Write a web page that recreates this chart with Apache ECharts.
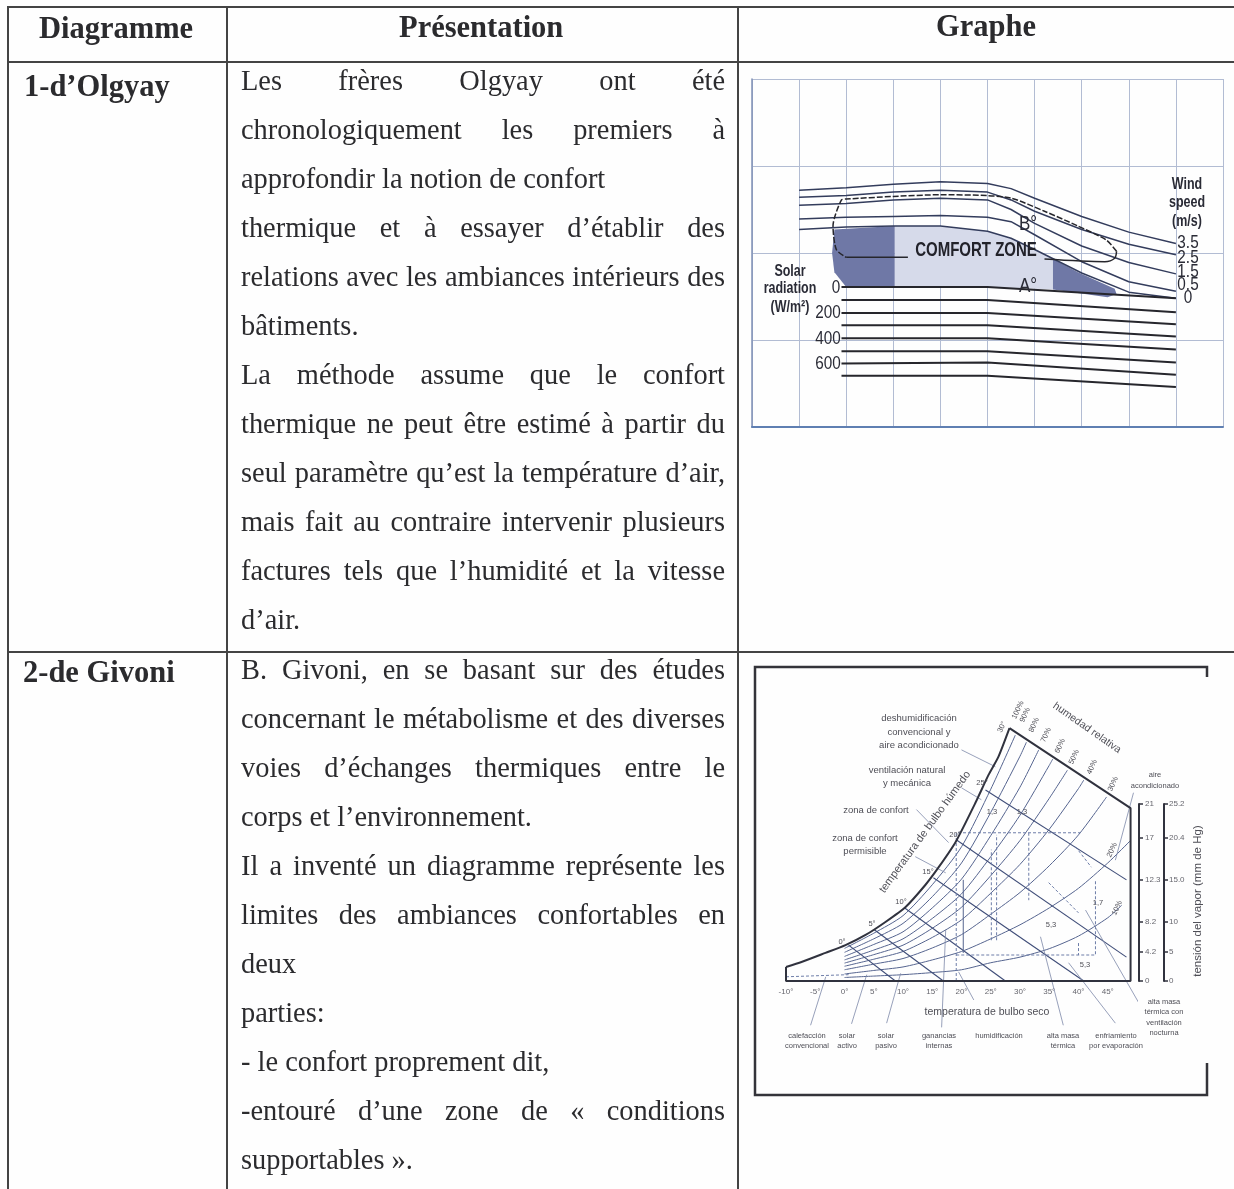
<!DOCTYPE html>
<html lang="fr">
<head>
<meta charset="utf-8">
<title>Diagrammes de confort</title>
<script src="https://cdn.jsdelivr.net/npm/echarts@6/dist/echarts.min.js"></script>
<style>
html, body { margin: 0; padding: 0; background: #fefefe; }
.page { position: relative; width: 1234px; height: 1189px; overflow: hidden; font-family: "Liberation Serif", serif; color: #2b2b2e; }
.rule { position: absolute; background: #444; }
.head, .name { position: absolute; font-weight: bold; font-size: 30.5px; line-height: 40px; white-space: nowrap; filter: blur(0.35px); }
.line { position: absolute; left: 241px; width: 484px; height: 49px; line-height: 49px; font-size: 28.4px; white-space: nowrap; filter: blur(0.35px); }
.line.just { white-space: normal; text-align: justify; text-align-last: justify; }
.chart { position: absolute; filter: blur(0.5px); }
</style>
</head>
<body>
<div class="page" id="page">
  <div class="chart" id="olgyay" style="left:745px;top:70px;width:485px;height:365px"></div>
  <div class="chart" id="givoni" style="left:750px;top:660px;width:470px;height:445px"></div>
</div>

<script>
// ---- table text
const headers = ['Diagramme', 'Présentation', 'Graphe']
const rowNames = ["1-d’Olgyay", '2-de Givoni']
const olgyayText = [
  ['Les frères Olgyay ont été', 1],
  ['chronologiquement les premiers à', 1],
  ['approfondir la notion de confort', 0],
  ['thermique et à essayer d’établir des', 1],
  ['relations avec les ambiances intérieurs des', 1],
  ['bâtiments.', 0],
  ['La méthode assume que le confort', 1],
  ['thermique ne peut être estimé à partir du', 1],
  ['seul paramètre qu’est la température d’air,', 1],
  ['mais fait au contraire intervenir plusieurs', 1],
  ['factures tels que l’humidité et la vitesse', 1],
  ['d’air.', 0]
]
const givoniText = [
  ['B. Givoni, en se basant sur des études', 1],
  ['concernant le métabolisme et des diverses', 1],
  ['voies d’échanges thermiques entre le', 1],
  ['corps et l’environnement.', 0],
  ['Il a inventé un diagramme représente les', 1],
  ['limites des ambiances confortables en', 1],
  ['deux', 0],
  ['parties:', 0],
  ['- le confort proprement dit,', 0],
  ['-entouré d’une zone de « conditions', 1],
  ['supportables ».', 0]
]

// ---- chart 1: Olgyay, humidity (%) against temperature (°C)
const windX = [10, 20, 30, 40, 50, 55, 60, 70, 80, 90]
const windSeries = [
  ['3.5', [37.2, 37.5, 37.9, 38.2, 38.0, 37.4, 36.3, 34.2, 32.4, 31.1]],
  ['2.5', [36.4, 36.6, 37.0, 37.2, 37.0, 36.1, 34.8, 32.7, 31.0, 29.8]],
  ['1.5', [35.5, 35.7, 36.1, 36.3, 36.1, 35.0, 33.4, 30.8, 28.9, 27.6]],
  ['0.5', [33.9, 34.1, 34.2, 34.3, 34.1, 33.6, 32.1, 29.0, 26.7, 25.6]],
  ['0', [32.7, 33.0, 33.1, 33.1, 32.5, 31.7, 30.4, 27.7, 25.5, 24.8]]
]
const solarX = [19, 50, 90]
const solarSeries = [
  ['0', [26.1, 26.1, 24.8]],
  ['', [24.6, 24.6, 23.2]],
  ['200', [23.1, 23.1, 21.8]],
  ['', [21.7, 21.7, 20.4]],
  ['400', [20.2, 20.2, 18.9]],
  ['', [18.7, 18.7, 17.4]],
  ['600', [17.3, 17.4, 16.0]],
  ['', [15.9, 15.9, 14.6]]
]
const comfortDashed = [[77.4, 30.2], [75.2, 31.5], [69.2, 33.1], [62.1, 34.8], [55.1, 36.3], [50, 36.6], [40, 36.7], [30, 36.5], [20, 36.2], [19, 36.1], [17.2, 33.1], [17.9, 30.4], [20, 29.5]]
const comfortSolidLeft = [[20, 29.5], [33.1, 29.5]]
const comfortSolidRight = [[62.1, 29.3], [74.9, 29], [77, 29.4], [77.4, 30.2]]
const zoneLight = [[30.3, 33.1], [40, 33.1], [50, 32.5], [55, 31.7], [60, 30.4], [63.9, 29.3], [63.9, 25.8], [50, 26.1], [30.3, 26.1]]
const zoneDarkLeft = [[17.5, 32.7], [30.3, 33.1], [30.3, 26.1], [20, 26.1], [17.5, 27.8], [17, 30]]
const zoneDarkRight = [[63.9, 29.3], [69.2, 27.8], [77, 25.9], [77.4, 25.3], [75.5, 24.9], [63.9, 25.8]]

// ---- chart 2: Givoni, dry bulb temperature (°C) against vapour scale
const saturation = [[-10, 2], [-7.35, 2.7], [-3.25, 4], [0.17, 5.1], [3.6, 6.55], [7, 8.4], [10.4, 10.5], [13.85, 13.7], [16.1, 16.2], [19, 19.8], [22.4, 25.4], [24.6, 29.3], [26.3, 31.9], [28.2, 36]]
const chartEdge = [[-10, 2], [-10, 0], [48.9, 0], [48.9, 24.6], [28.2, 36]]
const humidityCurves = [
  [[0, 4.64], [5, 6.8], [10, 9.3], [15, 13.7], [20, 19.1], [25, 27.3], [29.2, 35]],
  [[0, 4.08], [5, 6], [10, 8.2], [15, 12], [20, 16.8], [25, 24], [30, 32], [31.1, 34]],
  [[0, 3.5], [5, 5.2], [10, 7], [15, 10.4], [20, 14.5], [25, 20.7], [30, 27.6], [33.2, 32.9]],
  [[0, 3], [5, 4.4], [10, 6], [15, 8.9], [20, 12.4], [25, 17.7], [30, 23.6], [35, 30.7], [35.6, 31.6]],
  [[0, 2.55], [5, 3.75], [10, 5.1], [15, 7.5], [20, 10.5], [25, 15], [30, 20], [35, 26], [38.1, 30]],
  [[0, 2.1], [5, 3.1], [10, 4.2], [15, 6.2], [20, 8.7], [25, 12.5], [30, 16.6], [35, 21.6], [40, 27.4], [40.9, 28.6]],
  [[0, 1.6], [5, 2.4], [10, 3.2], [15, 4.7], [20, 6.6], [25, 9.5], [30, 12.6], [35, 16.4], [40, 20.8], [44.8, 26.2]],
  [[0, 1], [5, 1.5], [10, 2], [15, 3], [20, 4.2], [25, 6], [30, 8], [35, 10.4], [40, 13.2], [45, 16.8], [48.9, 20]],
  [[0, 0.5], [5, 0.7], [10, 0.9], [15, 1.2], [20, 1.6], [25, 2.6], [30, 3.4], [35, 4.6], [40, 6.4], [45, 9], [47.4, 10.8]]
]
const wetBulbLines = [
  [[0.7, 5.1], [8.7, 0]],
  [[5.1, 7.3], [16.9, 0]],
  [[10.3, 10.4], [27.5, 0]],
  [[15.2, 14.7], [40.9, 0]],
  [[19.1, 20.1], [48.2, 3.4]],
  [[24.1, 27.2], [48.2, 14.4]]
]
const zoneLines = [
  [[19.1, 0], [19.1, 21.1], [40.3, 21.1]],
  [[19.1, 3.7], [42.9, 3.7], [42.9, 14.4]],
  [[25.1, 5.8], [25.1, 18.7]],
  [[26, 5.8], [26, 20.8]],
  [[31.5, 21.1], [31.5, 11.5]],
  [[-10, 0.6], [0.7, 0.9]],
  [[34.9, 14], [40, 9.7]],
  [[39.5, 19.1], [42.2, 16.2]],
  [[40, 5.4], [40, 3.7]]
]
const solidVertical = [[20.3, 14.4], [20.3, 4]]
const leaderLines = [
  [[20, 32.9], [25.8, 30.5]],
  [[20, 27.5], [23.4, 25.8]],
  [[12.3, 24.4], [17.8, 19.7]],
  [[12.1, 17.7], [17.3, 15.4]],
  [[-5.8, -6.3], [-3.2, 0.6]],
  [[1.2, -6.1], [3.8, 0.9]],
  [[7.2, -6], [9.6, 1.1]],
  [[16.6, -6.6], [17.3, 7.3]],
  [[22.1, -2.7], [19.5, 1.3]],
  [[37.4, -6.3], [33.5, 6.3]],
  [[46.3, -6], [38.3, 2.6]],
  [[50.3, -3.1], [41.2, 10.1]],
  [[49.4, 26.8], [46.3, 17.2]]
]
const scaleTicks = [0, 4.17, 8.45, 14.4, 20.4, 25.2]
const scaleLeftLabels = ['0', '4.2', '8.2', '12.3', '17', '21']
const scaleRightLabels = ['0', '5', '10', '15.0', '20.4', '25.2']

// ---- draw the table
const page = document.getElementById('page')

function addDiv (cls, text, css) {
  let el = document.createElement('div')
  el.className = cls
  if (text) el.textContent = text
  Object.assign(el.style, css)
  page.appendChild(el)
}

function addRules () {
  addDiv('rule', '', { left: '7px', top: '6px', width: '1227px', height: '2px' })
  addDiv('rule', '', { left: '7px', top: '60.5px', width: '1227px', height: '2px' })
  addDiv('rule', '', { left: '7px', top: '650.5px', width: '1227px', height: '2px' })
  addDiv('rule', '', { left: '7px', top: '6px', width: '2px', height: '1183px' })
  addDiv('rule', '', { left: '225.5px', top: '6px', width: '2px', height: '1183px' })
  addDiv('rule', '', { left: '737px', top: '6px', width: '2px', height: '1183px' })
}

function addLines (lines, firstCenter, step) {
  lines.forEach((item, i) => {
    let top = firstCenter + step * i - 24.5
    addDiv(item[1] ? 'line just' : 'line', item[0], { top: top + 'px' })
  })
}

addRules()
addDiv('head', headers[0], { left: '39px', top: '8px' })
addDiv('head', headers[1], { left: '399px', top: '7px' })
addDiv('head', headers[2], { left: '936px', top: '6px' })
addDiv('name', rowNames[0], { left: '24px', top: '66px' })
addDiv('name', rowNames[1], { left: '23px', top: '652px' })
addLines(olgyayText, 80, 49)
addLines(givoniText, 669, 49)

// ---- helpers for the charts
function polyline (points, color, width, extra) {
  return Object.assign({
    type: 'line',
    data: points,
    symbol: 'none',
    silent: true,
    clip: false,
    animation: false,
    lineStyle: { color: color, width: width }
  }, extra || {})
}

function polygon (points, color) {
  return {
    type: 'custom',
    silent: true,
    animation: false,
    data: [0],
    renderItem (params, api) {
      return {
        type: 'polygon',
        shape: { points: points.map(p => api.coord(p)) },
        style: { fill: color }
      }
    }
  }
}

function text (str, x, y, size, opt) {
  opt = opt || {}
  return {
    type: 'text',
    x: x,
    y: y,
    rotation: (opt.rot || 0) * Math.PI / 180,
    scaleX: opt.sx || 1,
    silent: true,
    z: 20,
    style: {
      text: str,
      font: (opt.bold ? 'bold ' : '') + size + 'px "Liberation Sans", sans-serif',
      fill: opt.color || '#4e4e56',
      align: 'center',
      verticalAlign: 'middle'
    }
  }
}

// ---- chart 1
function initOlgyay () {
  let myChart = echarts.init(document.getElementById('olgyay'), null, { renderer: 'canvas' })
  let dark = { bold: true, sx: 0.78, color: '#2a2b36' }
  let series = [
    polygon(zoneLight, '#d6daea'),
    polygon(zoneDarkLeft, '#6f78a6'),
    polygon(zoneDarkRight, '#6f78a6')
  ]
  windSeries.forEach(item => {
    series.push(polyline(windX.map((x, i) => [x, item[1][i]]), '#333c5c', 1.5))
  })
  solarSeries.forEach(item => {
    series.push(polyline(solarX.map((x, i) => [x, item[1][i]]), '#26262c', 2))
  })
  series.push(polyline(comfortDashed, '#26262c', 1.5, { smooth: 0.25, lineStyle: { color: '#26262c', width: 1.5, type: [6, 2] } }))
  series.push(polyline(comfortSolidLeft, '#26262c', 1.5))
  series.push(polyline(comfortSolidRight, '#26262c', 1.5, { smooth: 0.3 }))

  let tickText = { sx: 0.85, color: '#2a2b36' }
  let option = {
    animation: false,
    backgroundColor: 'transparent',
    grid: { left: 7, top: 9, width: 471, height: 348 },
    xAxis: {
      type: 'value', min: 0, max: 100, interval: 10,
      axisLine: { show: true, onZero: false, lineStyle: { color: '#5f7fb2', width: 2 } },
      axisTick: { show: false },
      axisLabel: { show: false },
      splitLine: { show: true, lineStyle: { color: '#b2bcd3', width: 1 } }
    },
    yAxis: {
      type: 'value', min: 10, max: 50, interval: 10,
      axisLine: { show: true, onZero: false, lineStyle: { color: '#7f90b6', width: 1.5 } },
      axisTick: { show: false },
      axisLabel: { show: false },
      splitLine: { show: true, lineStyle: { color: '#b2bcd3', width: 1 } }
    },
    series: series,
    graphic: [
      text('COMFORT ZONE', 231, 180, 20, { bold: true, sx: 0.75, color: '#22222a' }),
      text('Wind', 442, 115, 16, dark),
      text('speed', 442, 133, 16, dark),
      text('(m/s)', 442, 152, 16, dark),
      text('Solar', 45, 202, 16, dark),
      text('radiation', 45, 219, 16, dark),
      text('(W/m²)', 45, 238, 16, dark),
      text('B°', 283, 154, 20, tickText),
      text('A°', 283, 216, 20, tickText),
      text(windSeries[0][0], 443, 173, 18, tickText),
      text(windSeries[1][0], 443, 188, 18, tickText),
      text(windSeries[2][0], 443, 202, 18, tickText),
      text(windSeries[3][0], 443, 215, 18, tickText),
      text(windSeries[4][0], 443, 228, 18, tickText),
      text(solarSeries[0][0], 91, 218, 18, tickText),
      text(solarSeries[2][0], 83, 243, 18, tickText),
      text(solarSeries[4][0], 83, 269, 18, tickText),
      text(solarSeries[6][0], 83, 294, 18, tickText)
    ]
  }
  myChart.setOption(option)
}

// ---- chart 2
function initGivoni () {
  let myChart = echarts.init(document.getElementById('givoni'), null, { renderer: 'canvas' })
  let series = []
  humidityCurves.forEach(c => series.push(polyline(c, '#55648f', 1, { smooth: 0.25 })))
  wetBulbLines.forEach(l => series.push(polyline(l, '#3f4d78', 1.1)))
  zoneLines.forEach(l => series.push(polyline(l, '#6d7da8', 1, { lineStyle: { color: '#6d7da8', width: 1, type: [3, 2] } })))
  series.push(polyline(solidVertical, '#55648f', 1))
  leaderLines.forEach(l => series.push(polyline(l, '#7c88a8', 0.8)))
  series.push(polyline(saturation, '#30323e', 2, { smooth: 0.2 }))
  series.push(polyline(chartEdge, '#30323e', 2))

  let scaleAxis = (labels, pos) => ({
    type: 'value', gridIndex: 1, min: 0, max: 25.2, position: pos,
    splitLine: { show: false },
    axisLine: { show: true, onZero: false, lineStyle: { color: '#30323e', width: 2 } },
    axisTick: { show: true, inside: pos === 'left', length: 4, customValues: scaleTicks, lineStyle: { color: '#30323e', width: 1.5 } },
    axisLabel: {
      show: true, inside: pos === 'left', margin: pos === 'left' ? 6 : 5, color: '#66666e', fontSize: 8,
      fontFamily: '"Liberation Sans", sans-serif', customValues: scaleTicks,
      formatter: v => labels[scaleTicks.indexOf(v)]
    }
  })

  let label = [
    ['deshumidificación', 169, 58], ['convencional y', 169, 72], ['aire acondicionado', 169, 85],
    ['ventilación natural', 157, 110], ['y mecánica', 157, 123], ['zona de confort', 126, 150],
    ['zona de confort', 115, 178], ['permisible', 115, 191]
  ].map(t => text(t[0], t[1], t[2], 9.5))
  let small = [
    ['aire', 405, 115], ['acondicionado', 405, 126],
    ['calefacción', 57, 376], ['convencional', 57, 386], ['solar', 97, 376], ['activo', 97, 386],
    ['solar', 136, 376], ['pasivo', 136, 386], ['ganancias', 189, 376], ['internas', 189, 386],
    ['humidificación', 249, 376], ['alta masa', 313, 376], ['térmica', 313, 386],
    ['enfriamiento', 366, 376], ['por evaporación', 366, 386], ['alta masa', 414, 342],
    ['térmica con', 414, 352], ['ventilación', 414, 363], ['nocturna', 414, 373]
  ].map(t => text(t[0], t[1], t[2], 7.5))
  let slanted = [
    ['100%', 268, 50], ['90%', 275, 55], ['80%', 284, 65], ['70%', 296, 75], ['60%', 310, 86],
    ['50%', 324, 97], ['40%', 342, 107], ['30%', 363, 124], ['30°', 252, 67], ['20%', 362, 190], ['10%', 367, 248]
  ].map(t => text(t[0], t[1], t[2], 7.5, { rot: 65 }))
  let wetLabels = [
    ['25°', 232, 123], ['20°', 205, 175], ['15°', 178, 212], ['10°', 151, 242], ['5°', 122, 264], ['0°', 92, 282],
    ['1,3', 242, 152], ['1,3', 272, 152], ['1,7', 348, 243], ['5,3', 301, 265], ['5,3', 335, 305]
  ].map(t => text(t[0], t[1], t[2], 7.5))

  let option = {
    animation: false,
    backgroundColor: 'transparent',
    grid: [
      { left: 36, top: 40, width: 351, height: 281 },
      { left: 389, top: 144, width: 25, height: 177 }
    ],
    xAxis: [
      {
        type: 'value', min: -10, max: 50, interval: 5,
        axisLine: { show: false }, axisTick: { show: false }, splitLine: { show: false },
        axisLabel: { show: true, showMaxLabel: false, margin: 7, color: '#66666e', fontSize: 8, formatter: '{value}°' }
      },
      { type: 'value', gridIndex: 1, min: 0, max: 1, show: false }
    ],
    yAxis: [
      { type: 'value', min: 0, max: 40, show: false },
      scaleAxis(scaleLeftLabels, 'left'),
      scaleAxis(scaleRightLabels, 'right')
    ],
    series: series,
    graphic: [
      {
        type: 'polyline',
        silent: true,
        shape: { points: [[457, 403], [457, 435], [5, 435], [5, 7], [457, 7], [457, 17]] },
        style: { stroke: '#34343a', lineWidth: 2.5, fill: 'none' }
      },
      text('humedad relativa', 337, 68, 10.5, { rot: -35 }),
      text('temperatura de bulbo húmedo', 175, 172, 11, { rot: 54 }),
      text('temperatura de bulbo seco', 237, 352, 10.5),
      text('tensión del vapor (mm de Hg)', 448, 241, 11.5, { rot: 90 })
    ].concat(label, small, slanted, wetLabels)
  }
  myChart.setOption(option)
}

initOlgyay()
initGivoni()
</script>
</body>
</html>
